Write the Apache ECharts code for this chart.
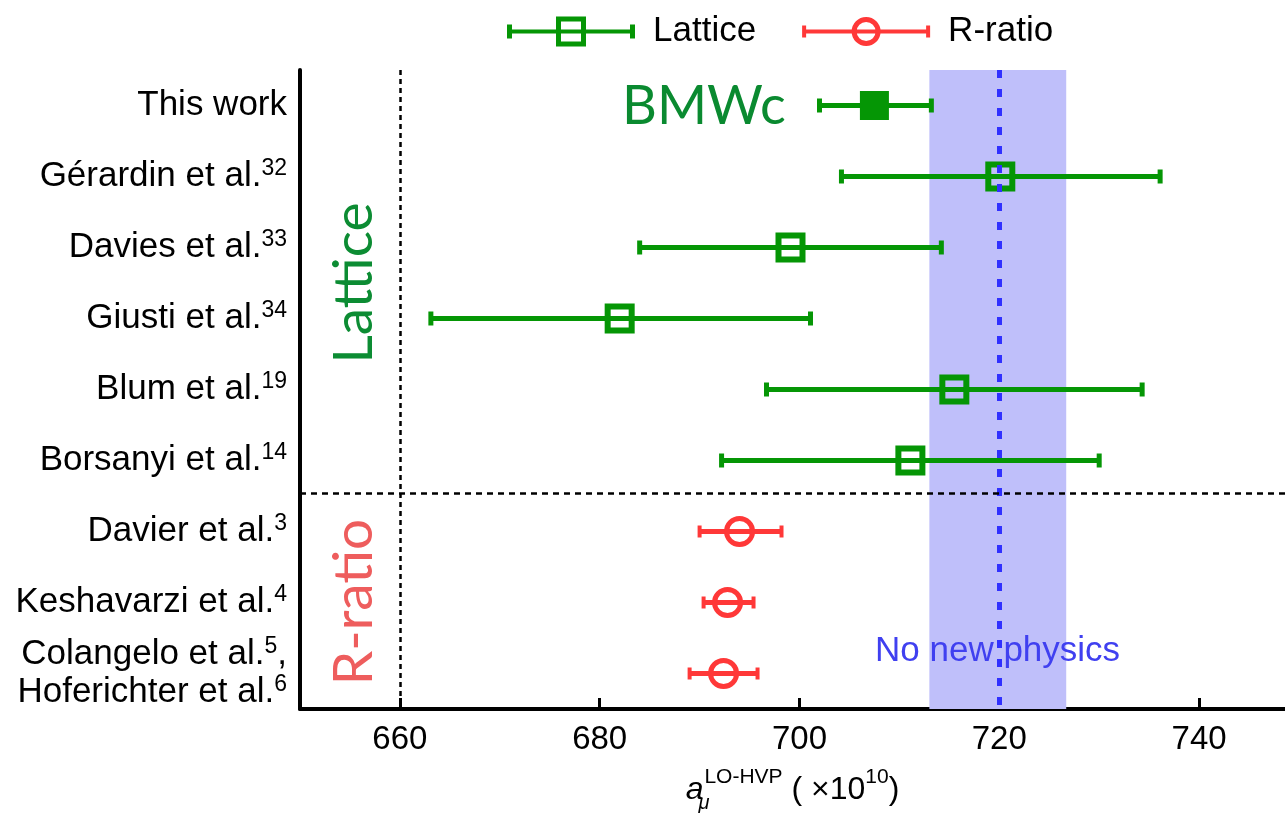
<!DOCTYPE html>
<html>
<head>
<meta charset="UTF-8">
<title>LO-HVP comparison</title>
<style>
  html, body { margin: 0; padding: 0; background: #fff; }
  #chart { width: 1285px; height: 818px; }
</style>
</head>
<body>
<div id="chart"></div>
<script src="https://cdn.jsdelivr.net/npm/echarts@6/dist/echarts.min.js"></script>
<script>
// rows, top to bottom
var categories = [
  'This work',
  'Gérardin et al.{sup|32}',
  'Davies et al.{sup|33}',
  'Giusti et al.{sup|34}',
  'Blum et al.{sup|19}',
  'Borsanyi et al.{sup|14}',
  'Davier et al.{sup|3}',
  'Keshavarzi et al.{sup|4}',
  'Colangelo et al.{sup|5},\nHoferichter et al.{sup|6}'
];
var groups  = ['Lattice', 'Lattice', 'Lattice', 'Lattice', 'Lattice', 'Lattice', 'R-ratio', 'R-ratio', 'R-ratio'];
var centers = [707.5, 720.1, 699.1, 682.0, 715.5, 711.1, 694.0, 692.8, 692.4];
var lows    = [702.0, 704.2, 684.0, 663.1, 696.7, 692.2, 690.0, 690.4, 689.0];
var highs   = [713.2, 736.1, 714.2, 701.1, 734.3, 730.0, 698.2, 695.4, 695.8];

var band = [713.0, 726.7];      // "no new physics" band
var noNewPhysics = 720.0;
var xTicks = [660, 680, 700, 720, 740];

var green = '#059605';
var red = '#ff3838';

function rowsOf(name) {
  var out = [];
  for (var i = 0; i < categories.length; i++) {
    if (groups[i] === name) out.push([i, centers[i], lows[i], highs[i]]);
  }
  return out;
}

function errorBar(params, api, marker) {
  var yi = api.value(0);
  var c = api.coord([api.value(1), yi]);
  var l = api.coord([api.value(2), yi]);
  var h = api.coord([api.value(3), yi]);
  var color = api.visual('color');
  var capH = marker === 'circle' ? 12 : 14;
  var capW = marker === 'circle' ? 4 : 5;
  var kids = [
    { type: 'line', shape: { x1: l[0], y1: c[1], x2: h[0], y2: c[1] }, style: { stroke: color, lineWidth: 5 } },
    { type: 'rect', shape: { x: l[0] - capW / 2, y: c[1] - capH / 2, width: capW, height: capH }, style: { fill: color } },
    { type: 'rect', shape: { x: h[0] - capW / 2, y: c[1] - capH / 2, width: capW, height: capH }, style: { fill: color } }
  ];
  if (marker === 'circle') {
    kids.push({ type: 'circle', shape: { cx: c[0], cy: c[1], r: 13 }, style: { fill: 'none', stroke: color, lineWidth: 5 } });
  } else if (params.dataIndex === 0) {
    kids.push({ type: 'rect', shape: { x: c[0] - 14.5, y: c[1] - 14.5, width: 29, height: 29 }, style: { fill: color } });
  } else {
    kids.push({ type: 'rect', shape: { x: c[0] - 12, y: c[1] - 12, width: 24, height: 24 }, style: { fill: 'none', stroke: color, lineWidth: 6 } });
  }
  return { type: 'group', children: kids };
}

// legend icons: error bar with hollow square / hollow circle (128 x 30 box)
var squareIcon = 'path://M0 13L128 13L128 17L0 17Z M0 8L5 8L5 22L0 22Z M123 8L128 8L128 22L123 22Z ' +
  'M49 0L79 0L79 30L49 30Z M54 5L54 25L74 25L74 5Z';
var circleIcon = 'path://M0 13L128 13L128 17L0 17Z M0 9L4 9L4 21L0 21Z M124 9L128 9L128 21L124 21Z ' +
  'M49.5 15A14.5 14.5 0 1 1 78.5 15A14.5 14.5 0 1 1 49.5 15Z M54.5 15A9.5 9.5 0 1 0 73.5 15A9.5 9.5 0 1 0 54.5 15Z';

var chart = echarts.init(document.getElementById('chart'));
var option = {
  backgroundColor: '#fff',
  animation: false,
  textStyle: { fontFamily: 'Liberation Sans' },
  legend: {
    left: 502,
    top: 9,
    itemWidth: 128,
    itemHeight: 30,
    itemGap: 46,
    selectedMode: false,
    textStyle: { fontSize: 35, color: '#000', padding: [0, 0, 0, 13] },
    data: [
      { name: 'Lattice', icon: squareIcon, itemStyle: { color: green } },
      { name: 'R-ratio', icon: circleIcon, itemStyle: { color: red } }
    ]
  },
  grid: { left: 300, right: 0, top: 70, bottom: 106, containLabel: false },
  xAxis: {
    type: 'value',
    min: 650,
    max: 748.6,
    name: '{a|a}{mu|μ}{sup|LO-HVP}{t| ( ×10}{sup|10}{t|)}',
    nameLocation: 'middle',
    nameGap: 58,
    nameTextStyle: {
      rich: {
        a: { fontSize: 32, fontStyle: 'italic', lineHeight: 46, color: '#000' },
        mu: { fontSize: 20, fontStyle: 'italic', verticalAlign: 'bottom', width: 1, color: '#000' },
        sup: { fontSize: 21, verticalAlign: 'top', color: '#000' },
        t: { fontSize: 32, lineHeight: 46, color: '#000' }
      }
    },
    axisLine: { onZero: false, lineStyle: { color: '#000', width: 4 } },
    axisTick: { inside: true, length: 11, lineStyle: { color: '#000', width: 3 }, customValues: xTicks },
    axisLabel: { fontSize: 33, color: '#000', margin: 14, customValues: xTicks },
    splitLine: { show: false }
  },
  yAxis: [{
    type: 'category',
    inverse: true,
    data: categories,
    axisLine: { lineStyle: { color: '#000', width: 4 } },
    axisTick: { inside: true, alignWithLabel: true, length: 12, lineStyle: { color: '#000', width: 3 } },
    axisLabel: {
      interval: 0,
      margin: 13,
      fontSize: 35,
      lineHeight: 38,
      color: '#000',
      align: 'right',
      rich: { sup: { fontSize: 23, verticalAlign: 'top', lineHeight: 23, color: '#000' } }
    },
    splitLine: { show: false }
  }, {
    type: 'value',
    min: 0,
    max: 9,
    inverse: true,
    show: false
  }],
  series: [{
    name: 'guides',
    type: 'line',
    yAxisIndex: 1,
    data: [],
    z: 1,
    silent: true,
    markArea: {
      silent: true,
      itemStyle: { color: '#bfbffa', opacity: 1 },
      data: [[{ xAxis: band[0] }, { xAxis: band[1] }]]
    },
    markLine: {
      silent: true,
      symbol: 'none',
      label: { show: false },
      emphasis: { disabled: true },
      data: [
        { xAxis: 660, lineStyle: { color: '#000', width: 2.5, type: [5, 4] } },
        { xAxis: noNewPhysics, lineStyle: { color: '#3030ff', width: 5, type: [8, 11] } },
        { yAxis: 5.96, lineStyle: { color: '#000', width: 2.5, type: [6, 5] } }
      ]
    }
  }, {
    name: 'Lattice',
    type: 'custom',
    z: 3,
    itemStyle: { color: green },
    encode: { x: [1, 2, 3], y: 0 },
    data: rowsOf('Lattice'),
    renderItem: function (params, api) { return errorBar(params, api, 'square'); }
  }, {
    name: 'R-ratio',
    type: 'custom',
    z: 3,
    itemStyle: { color: red },
    encode: { x: [1, 2, 3], y: 0 },
    data: rowsOf('R-ratio'),
    renderItem: function (params, api) { return errorBar(params, api, 'circle'); }
  }],
  graphic: [
    { type: 'text', left: 622, top: 80, z: 10, style: { text: 'BMWc', font: '54px Lato', fill: '#0a8a30' } },
    { type: 'text', x: 354, y: 283, rotation: Math.PI / 2, z: 10,
      style: { text: 'Lattice', font: '55px Lato', fill: '#0c8c33', textAlign: 'center', textVerticalAlign: 'middle' } },
    { type: 'text', x: 354, y: 602, rotation: Math.PI / 2, z: 10,
      style: { text: 'R-ratio', font: '55px Lato', fill: '#ee5d5d', textAlign: 'center', textVerticalAlign: 'middle' } },
    { type: 'text', left: 875, top: 634, z: 10, style: { text: 'No new physics', font: '35px "Liberation Sans"', fill: '#4040f0' } }
  ]
};
chart.setOption(option);
</script>
</body>
</html>
